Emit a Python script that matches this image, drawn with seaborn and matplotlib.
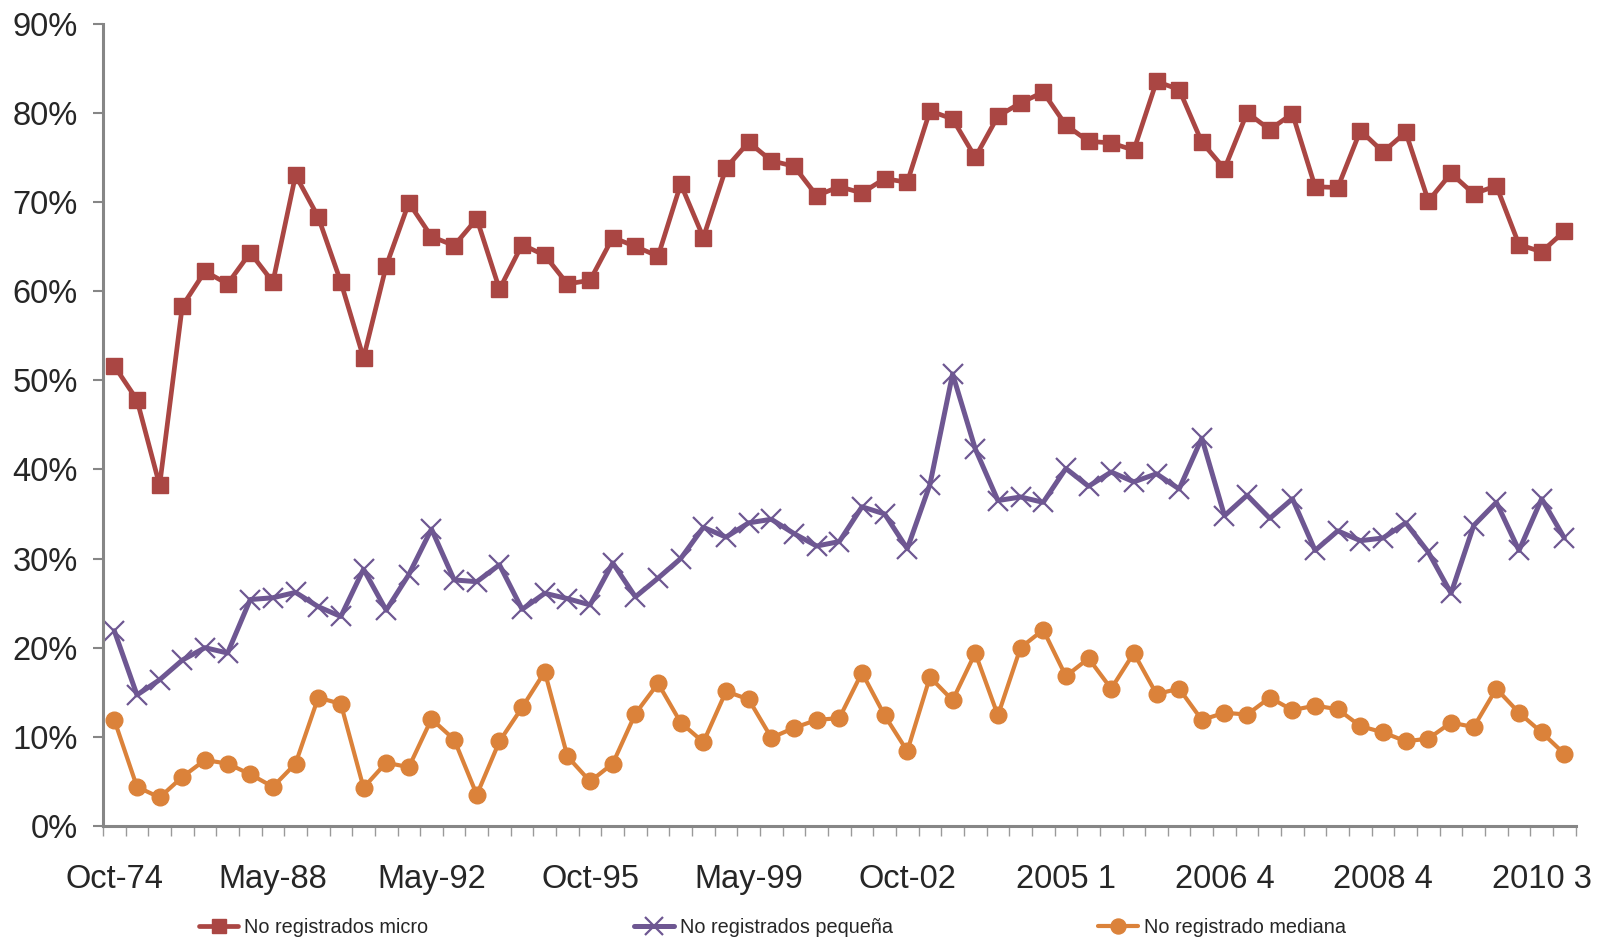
import numpy as np
import pandas as pd
import matplotlib
matplotlib.use("Agg")
import matplotlib.pyplot as plt
import seaborn as sns

# ---- data ----
tick_labels = ["Oct-74", "May-88", "May-92", "Oct-95", "May-99",
               "Oct-02", "2005 1", "2006 4", "2008 4", "2010 3"]

micro = [51.6, 47.8, 38.2, 58.3, 62.2, 60.8, 64.3, 61.0, 73.0, 68.3,
         61.0, 52.5, 62.8, 69.9, 66.1, 65.1, 68.1, 60.2, 65.2, 64.0,
         60.8, 61.2, 66.0, 65.0, 63.9, 72.0, 66.0, 73.8, 76.7, 74.6,
         74.0, 70.7, 71.7, 71.0, 72.6, 72.2, 80.2, 79.3, 75.0, 79.6,
         81.1, 82.3, 78.6, 76.8, 76.6, 75.8, 83.5, 82.6, 76.7, 73.7,
         80.0, 78.1, 79.9, 71.7, 71.6, 78.0, 75.6, 77.8, 70.1, 73.2,
         70.9, 71.8, 65.2, 64.4, 66.7]

pequena = [21.9, 14.7, 16.4, 18.6, 20.0, 19.4, 25.4, 25.6, 26.2, 24.6,
           23.5, 28.8, 24.2, 28.2, 33.3, 27.6, 27.4, 29.3, 24.3, 26.1,
           25.5, 24.8, 29.5, 25.7, 27.8, 30.0, 33.5, 32.4, 34.0, 34.4,
           32.8, 31.4, 31.9, 35.8, 35.0, 31.1, 38.3, 50.7, 42.3, 36.5,
           36.9, 36.3, 40.1, 38.1, 39.7, 38.6, 39.5, 37.8, 43.5, 34.8,
           37.1, 34.5, 36.7, 30.9, 33.1, 32.0, 32.3, 34.0, 30.7, 26.1,
           33.7, 36.3, 30.9, 36.7, 32.3]

mediana = [11.9, 4.4, 3.2, 5.5, 7.4, 7.0, 5.8, 4.4, 7.0, 14.4,
           13.7, 4.3, 7.1, 6.6, 12.0, 9.7, 3.5, 9.5, 13.3, 17.3,
           7.8, 5.0, 7.0, 12.6, 16.0, 11.6, 9.4, 15.1, 14.2, 9.9,
           11.0, 11.9, 12.1, 17.2, 12.4, 8.4, 16.7, 14.1, 19.4, 12.4,
           20.0, 22.0, 16.8, 18.8, 15.4, 19.4, 14.8, 15.4, 11.9, 12.7,
           12.5, 14.4, 13.0, 13.5, 13.1, 11.2, 10.5, 9.5, 9.8, 11.6,
           11.1, 15.4, 12.7, 10.5, 8.1]

series_names = ["No registrados micro", "No registrados pequeña", "No registrado mediana"]
series_values = [micro, pequena, mediana]

n = len(micro)
label_every = 7

# ---- style ----
sns.set_style("white")
plt.rcParams["font.family"] = ["Liberation Sans Narrow", "Liberation Sans", "DejaVu Sans"]

fig = plt.figure(figsize=(15.99, 9.41), dpi=100)
ax = fig.add_axes([0.0644, 0.1222, 0.9210, 0.8528])

colors = ["#AA4643", "#6E5792", "#DB823A"]
markers = ["s", "x", "o"]
msizes = [11.5, 14, 12]
mews = [1.0, 1.6, 1.0]
lws = [3.4, 3.6, 3.0]

idx = np.arange(n)
for name, vals, c, m, ms, mew, lw in zip(series_names, series_values, colors,
                                          markers, msizes, mews, lws):
    df = pd.DataFrame({"x": idx, "y": np.array(vals) / 100.0})
    sns.lineplot(data=df, x="x", y="y", ax=ax, color=c, marker=m,
                 markersize=ms, markeredgewidth=mew, markeredgecolor=c,
                 linewidth=lw, label=name, legend=False)

ax.set_xlim(-0.5, n - 0.5)
ax.set_ylim(0, 0.9)
ax.set_yticks(np.arange(0, 0.91, 0.1))
ax.set_yticklabels([f"{int(round(v*100))}%" for v in np.arange(0, 0.91, 0.1)])

ax.set_xticks(np.arange(0, n, label_every))
ax.set_xticklabels(tick_labels)
ax.set_xticks(np.arange(-0.5, n, 1), minor=True)
ax.tick_params(axis="x", which="major", length=0, pad=27, labelsize=23.5)
ax.tick_params(axis="x", which="minor", length=7.5, width=1.0, color="#9a9a9a",
               direction="out", bottom=True)
ax.tick_params(axis="y", which="major", length=7, width=1.5, color="#868686",
               direction="out", left=True, pad=11, labelsize=23.5)
ax.set_xlabel("")
ax.set_ylabel("")

for s in ["top", "right"]:
    ax.spines[s].set_visible(False)
for s in ["left", "bottom"]:
    ax.spines[s].set_color("#868686")
    ax.spines[s].set_linewidth(2.2)

handles, labels = ax.get_legend_handles_labels()
fig.legend(handles, labels, loc="center", bbox_to_anchor=(0.483, 0.0145),
           ncol=3, frameon=False, fontsize=14.3, handlelength=2.0,
           handletextpad=0.3, columnspacing=10.35, markerscale=0.9)

fig.savefig("out.png", dpi=100)
